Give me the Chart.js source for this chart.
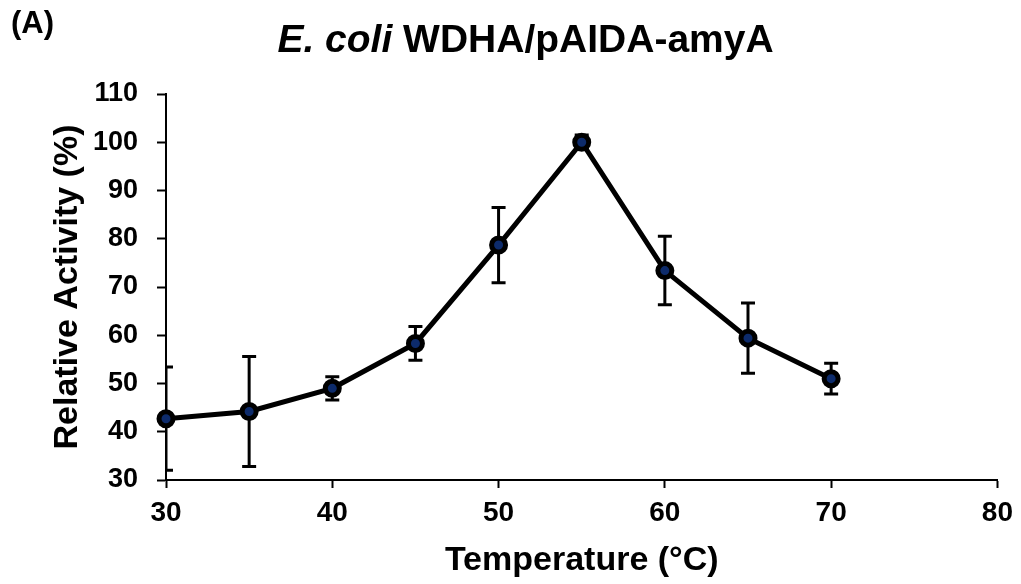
<!DOCTYPE html>
<html>
<head>
<meta charset="utf-8">
<script src="https://cdn.jsdelivr.net/npm/chart.js@4"></script>
<style>
  body { margin: 0; background: #fff; }
  #wrap { position: relative; width: 1021px; height: 584px; }
  .lbl { position: absolute; font-family: "Liberation Sans", Arial, sans-serif; font-weight: bold; color: #000; line-height: 1; white-space: nowrap; }
  #panel { left: 11px; top: 7px; font-size: 31px; }
  #title { left: 15px; top: 19px; width: 1021px; text-align: center; font-size: 39px; }
</style>
</head>
<body>
<div id="wrap">
  <canvas id="chart" width="1021" height="584"></canvas>
  <div class="lbl" id="panel">(A)</div>
  <div class="lbl" id="title"><i>E. coli</i> WDHA/pAIDA-amyA</div>
</div>
<script>
// data
const temperatures = [30, 35, 40, 45, 50, 55, 60, 65, 70];
const activity = [42.7, 44.2, 49.0, 58.3, 78.7, 100, 73.4, 59.4, 51.0];
const errors = [10.7, 11.4, 2.4, 3.5, 7.8, 1.5, 7.1, 7.3, 3.2];

const FONT = '"Liberation Sans", Arial, sans-serif';

// error bars drawn under the line and points
const errorBars = {
    id: 'errorBars',
    beforeDatasetsDraw(chart) {
        const { ctx, chartArea, scales } = chart;
        ctx.save();
        ctx.beginPath();
        ctx.rect(chartArea.left, chartArea.top, chartArea.right - chartArea.left, chartArea.bottom - chartArea.top);
        ctx.clip();
        ctx.strokeStyle = '#000';
        ctx.lineWidth = 3;
        temperatures.forEach((t, i) => {
            const x = scales.x.getPixelForValue(t);
            const yTop = scales.y.getPixelForValue(activity[i] + errors[i]);
            const yBot = scales.y.getPixelForValue(activity[i] - errors[i]);
            ctx.beginPath();
            ctx.moveTo(x, yTop); ctx.lineTo(x, yBot);
            ctx.moveTo(x - 7, yTop); ctx.lineTo(x + 7, yTop);
            ctx.moveTo(x - 7, yBot); ctx.lineTo(x + 7, yBot);
            ctx.stroke();
        });
        ctx.restore();
    }
};

new Chart(document.getElementById('chart'), {
    type: 'line',
    data: {
        datasets: [{
            data: temperatures.map((t, i) => ({ x: t, y: activity[i] })),
            borderColor: '#000',
            borderWidth: 5,
            pointRadius: 7,
            pointBorderWidth: 5,
            pointBackgroundColor: '#0d2b6b',
            pointBorderColor: '#000',
            tension: 0,
            clip: false
        }]
    },
    options: {
        responsive: false,
        devicePixelRatio: 1,
        animation: false,
        layout: { padding: { top: 94, right: 21, bottom: 0, left: 0 } },
        plugins: { legend: { display: false }, tooltip: { enabled: false } },
        scales: {
            x: {
                type: 'linear',
                min: 30, max: 80,
                ticks: { stepSize: 10, color: '#000', padding: 8, font: { family: FONT, size: 28, weight: 'bold' } },
                grid: { drawOnChartArea: false, drawTicks: true, tickLength: 8, tickColor: '#000', tickWidth: 2 },
                border: { display: true, color: '#000', width: 2 },
                title: { display: true, text: 'Temperature (°C)', color: '#000', padding: { top: 0, bottom: 3 }, font: { family: FONT, size: 34, weight: 'bold' } },
                afterFit(scale) { scale.height = 104; }
            },
            y: {
                min: 30, max: 110,
                ticks: { stepSize: 10, color: '#000', padding: 19, font: { family: FONT, size: 27, weight: 'bold' } },
                grid: { drawOnChartArea: false, drawTicks: true, tickLength: 9, tickColor: '#000', tickWidth: 2 },
                border: { display: true, color: '#000', width: 2 },
                title: { display: true, text: 'Relative Activity (%)', color: '#000', padding: { top: 47, bottom: 0 }, font: { family: FONT, size: 34, weight: 'bold' } },
                afterFit(scale) { scale.width = 166; }
            }
        }
    },
    plugins: [errorBars]
});
</script>
</body>
</html>
